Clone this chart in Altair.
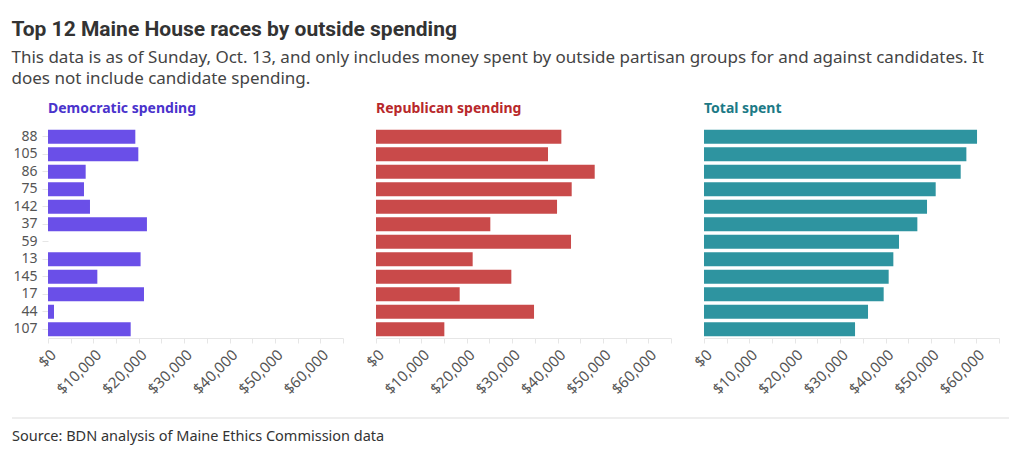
import altair as alt
import pandas as pd

districts = ["88", "105", "86", "75", "142", "37", "59", "13", "145", "17", "44", "107"]
dem_spending = [19240, 19900, 8300, 7930, 9250, 21800, 0, 20400, 10870, 21150, 1320, 18220]
rep_spending = [40840, 37900, 48190, 43120, 39890, 25190, 42970, 21300, 29820, 18440, 34820, 15060]
total_spent = [60160, 57810, 56560, 51050, 49140, 47010, 42970, 41720, 40690, 39590, 36140, 33280]

panel_titles = ["Democratic spending", "Republican spending", "Total spent"]
bar_colors = ["#6a4fe8", "#c94a4a", "#2e94a0"]
title_colors = ["#4a33cc", "#b8282b", "#1c7a86"]

tick_values = list(range(0, 65001, 5000))
source_text = "Source: BDN analysis of Maine Ethics Commission data"

FONT = "Noto Sans"

df = pd.DataFrame({
    "district": districts,
    "dem": dem_spending,
    "rep": rep_spending,
    "total": total_spent,
})

W, H = 295, 210


def panel(field, idx, show_y):
    y_axis = alt.Axis(
        title=None, labelFontSize=14, labelColor="#555", labelFont=FONT,
        domain=False, ticks=True, tickColor="#e6e6e6", tickSize=6,
        labelPadding=5, grid=False,
    ) if show_y else None
    bars = alt.Chart(df).mark_bar(color=bar_colors[idx]).encode(
        y=alt.Y("district:N", sort=districts, axis=y_axis,
                scale=alt.Scale(paddingInner=0.2, paddingOuter=0.1)),
        x=alt.X(f"{field}:Q",
                scale=alt.Scale(domain=[0, 65000], nice=False),
                axis=alt.Axis(
                    title=None, values=tick_values,
                    labelExpr="datum.value % 10000 === 0 ? format(datum.value, '$,') : ''",
                    labelAngle=315, labelFontSize=15, labelColor="#555", labelFont=FONT,
                    domainColor="#e6e6e6", tickColor="#e6e6e6", tickSize=5,
                    grid=False, labelPadding=4, labelOverlap=False,
                )),
    ).properties(
        width=W, height=H,
        title=alt.TitleParams(
            panel_titles[idx], anchor="start", frame="group", fontSize=14,
            fontWeight="bold", color=title_colors[idx], font=FONT, offset=12,
        ),
    )
    return bars


p1 = panel("dem", 0, True)
footer_df = pd.DataFrame({"t": [source_text]})
footer = alt.Chart(footer_df).mark_text(
    align="left", baseline="alphabetic", fontSize=14.5, color="#333", font=FONT
).encode(text="t:N", x=alt.value(-36), y=alt.value(313))
rule = alt.Chart(footer_df).mark_rule(color="#dddddd", strokeWidth=1).encode(
    x=alt.value(-36), x2=alt.value(961), y=alt.value(290)
)
p1 = alt.layer(p1, rule, footer)

p2 = panel("rep", 1, False)
p3 = panel("total", 2, False)

chart = alt.hconcat(p1, p2, p3, spacing=33, bounds="flush").properties(
    title=alt.TitleParams(
        "Top 12 Maine House races by outside spending",
        subtitle=[
            "This data is as of Sunday, Oct. 13, and only includes money spent by outside partisan groups for and against candidates. It",
            "does not include candidate spending.",
        ],
        anchor="start", fontSize=21, fontWeight="bold", color="#333", font="Roboto",
        subtitleFontSize=17, subtitleColor="#444", subtitleFont=FONT,
        subtitleLineHeight=21, subtitlePadding=10, offset=15,
    ),
    padding={"left": 3, "top": 11, "right": 2, "bottom": 2},
).configure_view(stroke=None)

chart.save("out.html", embed_options={"renderer": "svg", "actions": False})
